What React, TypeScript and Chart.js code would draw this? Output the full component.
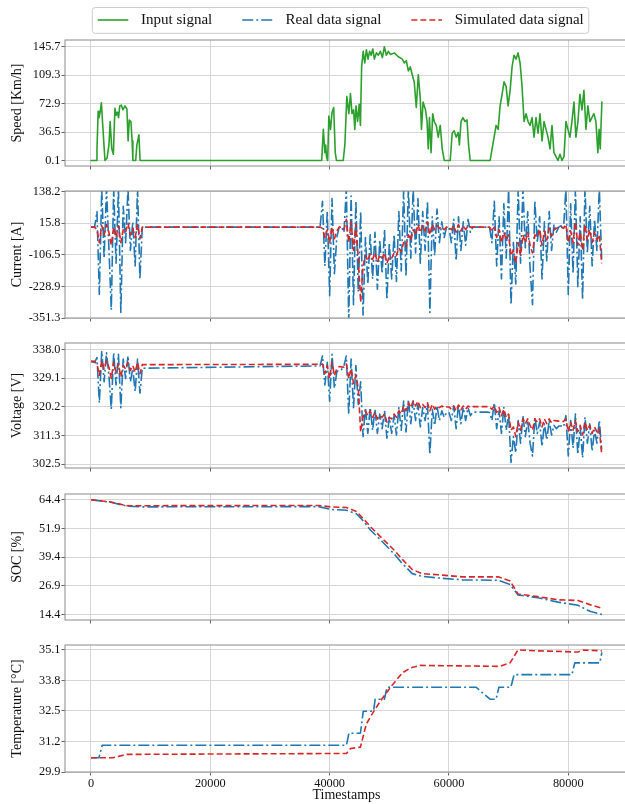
import React, { useEffect, useRef } from "react";
import { Chart, registerables } from "chart.js";

Chart.register(...registerables);

const FONT = "'Liberation Serif', 'Times New Roman', serif";
const GREEN = "#2ca02c";
const BLUE = "#1f77b4";
const RED = "#d62728";
const GRID = "#d6d6d6";
const FRAME = "#8a8a8a";
const TEXT = "#111111";
const BLUE_DASH = [11, 3, 2, 3];
const RED_DASH = [6, 3];

// ---------------- data ----------------
const legendLabels = ["Input signal", "Real data signal", "Simulated data signal"];
const axisTitles = ["Speed [Km/h]", "Current [A]", "Voltage [V]", "SOC [%]", "Temperature [°C]"];
const xTitle = "Timestamps";
const xTickLabels = ["0", "20000", "40000", "60000", "80000"];
const speedTickLabels = ["0.1", "36.5", "72.9", "109.3", "145.7"];
const currentTickLabels = ["-351.3", "-228.9", "-106.5", "15.8", "138.2"];
const voltageTickLabels = ["302.5", "311.3", "320.2", "329.1", "338.0"];
const socTickLabels = ["14.4", "26.9", "39.4", "51.9", "64.4"];
const tempTickLabels = ["29.9", "31.2", "32.5", "33.8", "35.1"];

const speedT = [
  0, 870, 1000, 1200, 1340, 1540, 1740, 2010, 2340, 2680, 3010, 3210, 3480, 3750, 4010, 4210, 4420, 4620, 4820, 5080,
  5350, 5690, 6020, 6220, 6420, 6690, 6890, 7020, 7490, 7690, 8030, 8230,
  38670, 38940, 39200, 39340, 39470, 39670, 39870, 40140, 40410, 40680, 40940, 41140,
  42280, 42550, 42880, 43220, 43490, 43750, 44020, 44220, 44420, 44690, 44960, 45160, 45360, 45630, 45890, 46160,
  46430, 46700, 46960, 47230, 47500, 47830, 48170, 48500, 48840, 49170, 49510, 49840, 50180, 50840, 51510, 52180,
  52520, 52850, 53190, 53520, 53850, 54190, 54520, 54860, 55190, 55390, 55660, 56060, 56330, 56530, 56730, 57000,
  57270, 57530, 57870, 58200, 58540, 58870, 59210,
  60210, 60540, 60880, 61210, 61550, 61750, 62020, 62350, 62690, 63020, 63290, 63560,
  66900, 67230, 67570, 67900, 68240, 68570, 68910, 69240, 69580, 69910, 70250, 70580, 70910, 71250, 71580, 71920,
  72250, 72590, 72920, 73260, 73590, 73930, 74260, 74590, 74930, 75260, 75600, 75930, 76270, 76600, 76940, 77270,
  77600, 77940, 78270, 78610, 78940, 79280, 79610, 79940, 80280, 80610, 80950, 81280, 81620, 81950, 82290, 82620,
  82960, 83290, 83630, 83960, 84290, 84630, 84960, 85160, 85360, 85630,
];
const speedV = [
  0.1, 0.1, 14, 63, 55, 62, 74, 40, 0.1, 3, 20, 50, 15, 8, 67, 58, 62, 55, 70, 71,
  65, 70, 66, 25, 52, 50, 25, 0.1, 0.1, 20, 33, 0.1,
  0.1, 40, 10, 20, 5, 0.1, 57, 40, 62, 68, 10, 0.1,
  0.1, 20, 82, 60, 86, 60, 65, 40, 70, 50, 72, 45, 120, 140, 125, 142,
  130, 140, 135, 143, 130, 138, 135, 140, 132, 145.7, 135, 140, 136, 138, 133, 130,
  125, 128, 115, 120, 110, 100, 68, 110, 80, 40, 75, 65, 50, 15, 55, 10,
  60, 50, 45, 30, 45, 15, 0.1,
  0.1, 35, 38, 30, 36, 20, 50, 55, 50, 52, 20, 0.1,
  0.1, 15, 30, 45, 40, 70, 85, 101, 95, 70, 90, 120, 135, 130, 138, 125,
  95, 50, 60, 50, 45, 55, 30, 55, 35, 60, 25, 50, 40, 30, 15, 45,
  10, 5, 0.1, 8, 0.1, 5, 50, 40, 30, 50, 75, 30, 50, 85, 65, 90,
  40, 70, 50, 55, 60, 50, 10, 40, 15, 75,
];

const driveT = [
  0, 600,
  1000, 1400, 1800, 2200, 2600, 3000, 3400, 3800, 4200, 4600, 5000, 5400, 5800, 6200, 6600, 7000, 7400, 7800, 8200,
  8600, 38400,
  38800, 39200, 39600, 40000, 40400, 40800, 41200,
  41600, 42000,
  42400, 42800, 43200, 43600, 44000, 44400, 44800, 45200, 45600, 46000,
  46400, 46800, 47200, 47600, 48000, 48400, 48800, 49200, 49600, 50000,
  50400, 50800, 51200, 51600, 52000, 52400, 52800, 53200, 53600, 54000,
  54400, 54800, 55200, 55600, 56000, 56400, 56800, 57200, 57600, 58000,
  58400, 58800, 59200,
  59600, 60000, 60400, 60800, 61200, 61600, 62000, 62400, 62800, 63200, 63600,
  64000, 66400,
  66800, 67200, 67600, 68000, 68400, 68800, 69200, 69600, 70000, 70400,
  70800, 71200, 71600, 72000, 72400, 72800, 73200, 73600, 74000, 74400,
  74800, 75200, 75600, 76000, 76400, 76800, 77200, 77600, 78000, 78400,
  78800, 79200, 79600, 80000, 80400, 80800, 81200, 81600, 82000, 82400,
  82800, 83200, 83600, 84000, 84400, 84800, 85200, 85600,
];
const currentReal = [
  0, 0,
  60, -260, 150, -120, 150, -80, -320, 150, -140, 150, -330, 80, -60, 150, -90, 20, -150, 150, -200,
  0, 0,
  100, -150, 60, -265, 110, -180, -40,
  0, 0,
  -20, 150, -360, 120, -300, 100, -250, 60, -340, -40,
  -220, -30, -200, -20, -240, -50, -180, -10, -280, -60,
  -200, -30, -210, 60, -170, 140, -190, 150, -120, 150,
  -100, 110, -140, 60, -90, 100, -330, 40, -110, 70,
  -60, 20, -40,
  0, 0, -60, 30, -130, 40, -90, 20, -70, 30, -20,
  0, 0,
  0, -60, 100, -150, 40, -200, 90, -120, 150, -300,
  -60, -220, 150, -140, 150, -80, 60, -160, -300, 100,
  -60, 40, -200, 20, -130, 60, -90, 10, -20, 0,
  5, -10, 150, -260, 90, -180, 150, -230, 40, -280,
  150, -100, 80, -150, 30, -90, 150, -130,
];
const currentSim = [
  0, 0,
  -10, -60, 5, -30, 10, -20, -70, 0, -40, 5, -60, -10, -20, 15, -30, -5, -40, 10, -45,
  0, 0,
  -5, -40, -10, -60, 0, -45, -15,
  0, 0,
  -10, 30, -60, 20, -90, 10, -120, -290, -150, -110,
  -130, -105, -125, -100, -135, -110, -120, -100, -140, -115,
  -120, -100, -110, -80, -95, -60, -75, -30, -50, -10,
  -30, 10, -20, 5, -15, 20, -30, 10, -10, 5,
  -5, 0, -10,
  0, 0, -10, 5, -20, 10, -15, 5, -10, 5, 0,
  0, 0,
  0, -15, 0, -40, -10, -60, -20, -50, -30, -110,
  -90, -140, -60, -110, -30, -60, -20, -70, -100, -30,
  -40, -10, -70, -15, -50, -5, -35, -10, -5, 0,
  0, -5, 10, -60, -15, -60, 20, -70, -20, -90,
  10, -50, -10, -60, -20, -50, -30, -140,
];
const voltageReal = [
  334.2, 334.0,
  335.5, 321.5, 337.5, 328, 337, 330, 319.5, 337, 327, 336.5, 320, 335, 329, 336, 328, 332, 325, 335, 324.5,
  332.2, 332.9,
  336, 327, 334, 322, 336.5, 326, 331,
  331.8, 331.8,
  333, 336, 318, 335, 320, 333, 321, 328, 311, 320,
  312, 320, 313, 319.5, 312, 318, 313.5, 319, 310.5, 317,
  312, 317.5, 311.5, 320, 313, 322, 312.5, 322.5, 315, 322,
  316, 321, 314, 320, 316, 321, 305.5, 319.5, 314.5, 320.5,
  316, 319, 317,
  318.5, 318.5, 316, 320.5, 313.5, 321, 315, 320, 316, 320, 317.5,
  318.6, 318.6,
  318.5, 316, 321.5, 313.5, 319, 312, 320, 313, 318, 303,
  311, 306, 316, 309, 317.5, 311, 316, 309, 305, 317,
  312, 315.5, 308, 315, 310, 316, 311.5, 314.5, 313.5, 314.3,
  314.3, 314, 317.5, 305, 316, 307.5, 318, 305.5, 314, 304.5,
  317, 309, 315, 306.5, 313, 309, 316, 307,
];
const voltageSim = [
  334.4, 334.3,
  333.5, 330, 334.5, 332, 334.5, 332.5, 329, 334, 331, 333.5, 329.5, 333, 332, 334, 331.5, 333, 331, 334, 330.5,
  333.3, 333.4,
  333.5, 330.5, 333, 329, 334, 330, 332,
  332.7, 332.6,
  332.5, 333.5, 329, 332, 327.5, 330, 326, 312.5, 317, 319,
  317.5, 319, 317, 318.5, 316.5, 317.5, 317, 318, 315.5, 317,
  316.5, 318, 317, 319, 318, 320.5, 319, 321.5, 320, 322,
  320.5, 322, 320, 321, 320, 321.5, 319, 321, 319.5, 320.5,
  320, 320.5, 320,
  320.2, 320.2, 319.5, 320.5, 319, 320.8, 319.3, 320.5, 319.5, 320.5, 320,
  320.3, 320.3,
  320.2, 319.5, 320.5, 318.5, 320, 317.5, 319.5, 317, 318, 313,
  314, 311, 315.5, 313, 316.5, 315, 316.5, 314.5, 313, 316.5,
  315.5, 316.5, 314, 316.5, 315, 316.5, 315.3, 316, 315.9, 315.8,
  315.8, 315.7, 316.5, 312.5, 315.5, 313, 316, 312.5, 314.5, 311.5,
  315.5, 313, 314.5, 312, 314, 312.5, 313.5, 305.5,
];

const socT = [
  0, 3350, 6020, 8700, 38130, 40140, 42820, 44490, 45500, 46830, 48840, 50840, 52180,
  53850, 55530, 58200, 62220, 68240, 70250, 71580, 74930, 78270, 81620, 83630, 85630,
];
const socReal = [
  64.4, 63.3, 61.6, 61.3, 61.4, 60.2, 59.8, 58.3, 55.6, 51.2, 46.1, 40.7, 36.6,
  32.2, 31.0, 30.3, 29.5, 29.3, 27.5, 22.9, 21.7, 19.8, 18.4, 15.8, 14.4,
];
const socSim = [
  64.4, 63.4, 61.8, 61.8, 61.9, 61.3, 61.0, 59.3, 56.5, 52.7, 47.5, 42.4, 38.4,
  34.0, 32.2, 31.7, 30.8, 30.8, 29.0, 23.3, 22.2, 20.8, 20.5, 18.7, 17.1,
];

const tempRealT = [
  0, 1340, 1870, 42820, 43220, 45160, 45630, 47360, 47630, 49170, 49640,
  64560, 66900, 67900, 68370, 70380, 70910, 80610, 81090, 85290, 85630,
];
const tempReal = [
  30.51, 30.51, 31.04, 31.04, 31.55, 31.55, 32.49, 32.49, 33.0, 33.0, 33.51,
  33.51, 33.0, 33.0, 33.51, 33.51, 34.05, 34.05, 34.55, 34.55, 35.0,
];
const tempSimT = [
  0, 3680, 6020, 42820, 43490, 45160, 46160, 47500, 48840, 50510, 52180, 53520,
  55190, 68570, 70250, 71580, 74930, 81620, 82620, 85630,
];
const tempSim = [
  30.51, 30.51, 30.65, 30.69, 30.9, 30.96, 31.95, 32.53, 33.04, 33.61, 34.12, 34.33,
  34.44, 34.4, 34.55, 35.1, 35.06, 35.01, 35.1, 35.06,
];

// ---------------- layout ----------------
const XMIN = -4358;
const XMAX = 90010;
const CANVAS_W = 628;

const pts = (xs: number[], ys: number[]) => xs.map((x, i) => ({ x, y: ys[i] }));

const realDs = (xs: number[], ys: number[]) => ({
  label: legendLabels[1],
  data: pts(xs, ys),
  borderColor: BLUE,
  borderWidth: 1.6,
  borderDash: BLUE_DASH,
  borderJoinStyle: "round",
  borderCapStyle: "butt",
  pointRadius: 0,
  fill: false,
  order: 1,
});
const simDs = (xs: number[], ys: number[]) => ({
  label: legendLabels[2],
  data: pts(xs, ys),
  borderColor: RED,
  borderWidth: 1.6,
  borderDash: RED_DASH,
  borderJoinStyle: "round",
  borderCapStyle: "butt",
  pointRadius: 0,
  fill: false,
  order: 0,
});

type Panel = {
  top: number;
  padTop: number;
  plotH: number;
  bottomH: number;
  yMin: number;
  yMax: number;
  tickLabels: string[];
  title: string;
  last: boolean;
  legend: boolean;
  datasets: any[];
};

const panels: Panel[] = [
  {
    top: 0, padTop: 40, plotH: 126, bottomH: 10, yMin: -7, yMax: 154.5,
    tickLabels: speedTickLabels, title: axisTitles[0], last: false, legend: true,
    datasets: [{
      label: legendLabels[0], data: pts(speedT, speedV), borderColor: GREEN, borderWidth: 1.6,
      borderJoinStyle: "round", borderCapStyle: "round", pointRadius: 0, fill: false,
    }],
  },
  {
    top: 181, padTop: 10, plotH: 127, bottomH: 10, yMin: -351.3, yMax: 139.5,
    tickLabels: currentTickLabels, title: axisTitles[1], last: false, legend: false,
    datasets: [realDs(driveT, currentReal), simDs(driveT, currentSim)],
  },
  {
    top: 333, padTop: 10, plotH: 125, bottomH: 10, yMin: 301.3, yMax: 340.0,
    tickLabels: voltageTickLabels, title: axisTitles[2], last: false, legend: false,
    datasets: [realDs(driveT, voltageReal), simDs(driveT, voltageSim)],
  },
  {
    top: 484, padTop: 10, plotH: 126, bottomH: 10, yMin: 12.0, yMax: 66.9,
    tickLabels: socTickLabels, title: axisTitles[3], last: false, legend: false,
    datasets: [realDs(socT, socReal), simDs(socT, socSim)],
  },
  {
    top: 635, padTop: 10, plotH: 127, bottomH: 32, yMin: 29.9, yMax: 35.31,
    tickLabels: tempTickLabels, title: axisTitles[4], last: true, legend: false,
    datasets: [realDs(tempRealT, tempReal), simDs(tempSimT, tempSim)],
  },
];

const framePlugin = {
  id: "frameBox",
  afterDatasetsDraw(chart: any) {
    const { ctx, chartArea: a } = chart;
    ctx.save();
    ctx.strokeStyle = FRAME;
    ctx.lineWidth = 1;
    ctx.setLineDash([]);
    ctx.strokeRect(a.left, a.top, a.right - a.left, a.bottom - a.top);
    ctx.restore();
  },
};

const legendPlugin = {
  id: "topLegend",
  afterDraw(chart: any) {
    const ctx = chart.ctx;
    ctx.save();
    ctx.font = `15px ${FONT}`;
    const styles = [
      { color: GREEN, dash: [] as number[] },
      { color: BLUE, dash: BLUE_DASH },
      { color: RED, dash: RED_DASH },
    ];
    const lineLen = 30.6;
    const gapText = 12.7;
    const gapItem = 30;
    const widths = legendLabels.map((t) => ctx.measureText(t).width);
    const x0 = 97.7;
    let total = 0;
    widths.forEach((w, i) => {
      total += lineLen + gapText + w + (i < widths.length - 1 ? gapItem : 0);
    });
    const boxL = x0 - 5.4;
    const boxR = x0 + total + 5;
    const boxT = 7.5;
    const boxB = 33.3;
    ctx.beginPath();
    ctx.roundRect(boxL, boxT, boxR - boxL, boxB - boxT, 3);
    ctx.fillStyle = "rgba(255,255,255,0.8)";
    ctx.fill();
    ctx.strokeStyle = "#cccccc";
    ctx.lineWidth = 1;
    ctx.stroke();
    let x = x0;
    const yc = 20;
    legendLabels.forEach((t, i) => {
      ctx.beginPath();
      ctx.strokeStyle = styles[i].color;
      ctx.lineWidth = 1.6;
      ctx.setLineDash(styles[i].dash);
      ctx.moveTo(x, yc);
      ctx.lineTo(x + lineLen, yc);
      ctx.stroke();
      ctx.setLineDash([]);
      ctx.fillStyle = TEXT;
      ctx.textBaseline = "middle";
      ctx.textAlign = "left";
      ctx.fillText(t, x + lineLen + gapText, yc);
      x += lineLen + gapText + widths[i] + gapItem;
    });
    ctx.restore();
  },
};

function makeConfig(p: Panel): any {
  const yTicks = p.tickLabels.map(Number);
  const xTicks = xTickLabels.map(Number);
  return {
    type: "line",
    data: { datasets: p.datasets },
    options: {
      animation: false,
      responsive: false,
      maintainAspectRatio: false,
      devicePixelRatio: 1,
      events: [],
      layout: { padding: { top: p.padTop, left: 0, right: 0, bottom: 0 } },
      plugins: { legend: { display: false }, tooltip: { enabled: false }, title: { display: false } },
      elements: { point: { radius: 0 }, line: { tension: 0 } },
      scales: {
        x: {
          type: "linear",
          bounds: "data",
          min: XMIN,
          max: XMAX,
          afterBuildTicks: (s: any) => {
            s.ticks = xTicks.map((v) => ({ value: v }));
          },
          afterFit: (s: any) => {
            s.height = p.bottomH;
          },
          grid: { color: GRID, lineWidth: 1, drawTicks: true, tickLength: 3.5, tickColor: "#666666" },
          border: { display: false },
          ticks: {
            display: p.last,
            autoSkip: false,
            maxRotation: 0,
            padding: 1,
            color: TEXT,
            font: { family: FONT, size: 12.3 },
            callback: (_v: any, i: number) => xTickLabels[i],
          },
          title: {
            display: p.last,
            text: xTitle,
            color: TEXT,
            font: { family: FONT, size: 14 },
            padding: { top: 0, bottom: 0 },
          },
        },
        y: {
          type: "linear",
          bounds: "data",
          min: p.yMin,
          max: p.yMax,
          afterBuildTicks: (s: any) => {
            s.ticks = yTicks.map((v) => ({ value: v }));
          },
          afterFit: (s: any) => {
            s.width = 65;
          },
          grid: { color: GRID, lineWidth: 1, drawTicks: true, tickLength: 3.5, tickColor: "#666666" },
          border: { display: false },
          ticks: {
            autoSkip: false,
            padding: 1,
            color: TEXT,
            font: { family: FONT, size: 12.3 },
            callback: (_v: any, i: number) => p.tickLabels[i],
          },
          title: {
            display: true,
            text: p.title,
            color: TEXT,
            font: { family: FONT, size: 14 },
            padding: { top: 8.6, bottom: 0 },
          },
        },
      },
    },
    plugins: p.legend ? [framePlugin, legendPlugin] : [framePlugin],
  };
}

function PanelChart({ p }: { p: Panel }) {
  const ref = useRef<HTMLCanvasElement>(null);
  const h = p.padTop + p.plotH + p.bottomH;
  useEffect(() => {
    if (!ref.current) return;
    const chart = new Chart(ref.current, makeConfig(p));
    return () => chart.destroy();
  }, []);
  return (
    <canvas
      ref={ref}
      width={CANVAS_W}
      height={h}
      style={{ position: "absolute", left: 0, top: p.top, width: CANVAS_W, height: h, display: "block" }}
    />
  );
}

export default function App() {
  return (
    <div
      style={{
        position: "absolute",
        left: 0,
        top: 0,
        width: 625,
        height: 804,
        overflow: "hidden",
        background: "#ffffff",
      }}
    >
      {panels.map((p, i) => (
        <PanelChart key={i} p={p} />
      ))}
    </div>
  );
}
